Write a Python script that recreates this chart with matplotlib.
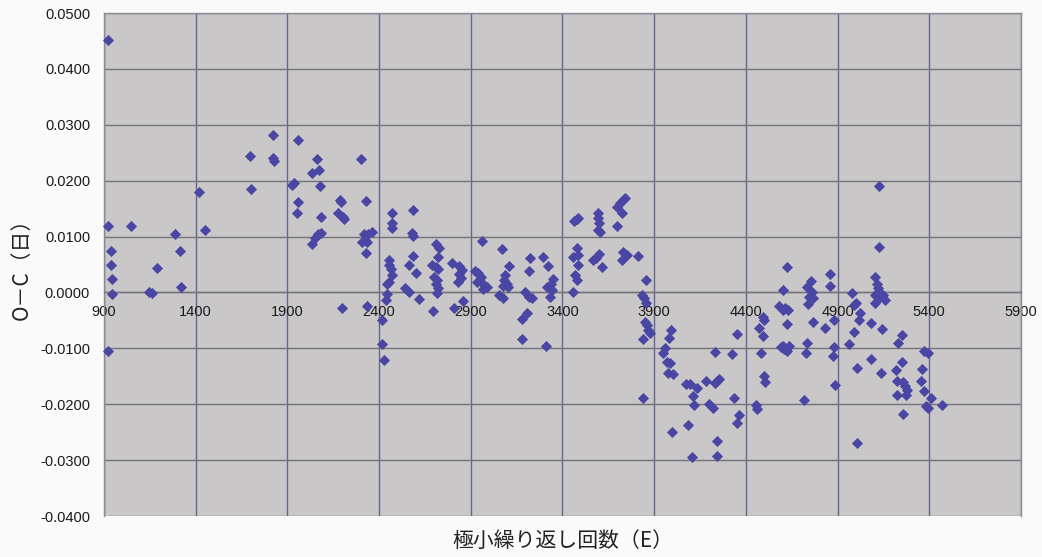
import matplotlib
matplotlib.use("Agg")
import matplotlib.pyplot as plt
import numpy as np

plt.rcParams['font.family'] = ['Liberation Sans', 'DejaVu Sans']
plt.rcParams['axes.unicode_minus'] = False

# Cycle count E and O-C residual (days), grouped by epoch range
epoch_early = [
    923, 923, 1046, 938, 938, 945, 946, 923, 1145, 1162, 1187, 1287, 1314, 1318, 1420, 1452,
    1694, 1700, 1820, 1819, 1827, 1956, 1923, 1936, 1956, 1951, 2061, 2036, 2072, 2076, 2083, 2036, 2050, 2068, 2082,
    2187, 2191, 2174, 2202, 2210, 2199, 2303, 2327, 2319, 2341, 2360, 2307, 2332, 2327, 2332,
    2469, 2469, 2472, 2454, 2456, 2463, 2472, 2456, 2445, 2445, 2438, 2418, 2418, 2427,
]
oc_early = [
    0.0452, 0.0119, 0.0119, 0.0074, 0.0050, 0.0024, -0.0002, -0.0105, 0.0001, -0.0001, 0.0044, 0.0105, 0.0074, 0.0010, 0.0180, 0.0112,
    0.0245, 0.0186, 0.0282, 0.0240, 0.0235, 0.0273, 0.0192, 0.0195, 0.0161, 0.0143, 0.0238, 0.0213, 0.0219, 0.0191, 0.0135, 0.0086, 0.0098, 0.0104, 0.0107,
    0.0165, 0.0162, 0.0143, 0.0135, 0.0131, -0.0027, 0.0238, 0.0164, 0.0104, 0.0104, 0.0109, 0.0090, 0.0091, 0.0071, -0.0025,
    0.0143, 0.0125, 0.0116, 0.0058, 0.0049, 0.0042, 0.0031, 0.0019, 0.0015, -0.0003, -0.0013, -0.0049, -0.0092, -0.0120,
]

epoch_mid = [
    2583, 2579, 2583, 2586, 2565, 2601, 2541, 2565, 2615, 2693, 2710, 2728, 2720, 2687, 2710, 2723, 2699, 2714, 2710, 2720, 2714,
    2796, 2837, 2850, 2837, 2845, 2832, 2856, 2811,
    2961, 2941, 2954, 2932, 2968, 2987, 2923, 2967,
    3068, 3110, 3087, 3083, 3096, 3074, 3105, 3055, 3077,
    3223, 3219, 3196, 3219, 3232, 3208, 3177, 3177,
    3292, 3323, 3350, 3336, 3314, 3341, 3332, 3312,
    3463, 3477, 3486, 3477, 3459, 3486, 3486, 3468, 3477, 3459,
    3592, 3595, 3601, 3592, 3604, 3601, 3583, 3568, 3614,
    3695, 3713, 3732, 3741, 3723, 3695, 3732, 3750, 3723, 3813,
    3855, 3832, 3844, 3858, 3850, 3859, 3868, 3880, 3837, 3837,
]
oc_mid = [
    0.0148, 0.0106, 0.0101, 0.0065, 0.0049, 0.0035, 0.0008, 0.0000, -0.0012, -0.0034, 0.0086, 0.0080, 0.0063, 0.0049, 0.0045, 0.0042, 0.0028, 0.0022, 0.0015, 0.0008, -0.0001,
    0.0053, 0.0047, 0.0040, 0.0033, 0.0025, 0.0019, -0.0015, -0.0028,
    0.0092, 0.0034, 0.0028, 0.0019, 0.0016, 0.0009, 0.0038, 0.0006,
    0.0078, 0.0047, 0.0031, 0.0022, 0.0015, 0.0012, 0.0010, -0.0004, -0.0010,
    0.0061, 0.0039, 0.0001, -0.0008, -0.0010, -0.0037, -0.0048, -0.0084,
    0.0064, 0.0047, 0.0024, 0.0016, 0.0009, 0.0004, -0.0008, -0.0096,
    0.0127, 0.0131, 0.0134, 0.0079, 0.0064, 0.0067, 0.0049, 0.0031, 0.0022, 0.0000,
    0.0142, 0.0133, 0.0124, 0.0112, 0.0109, 0.0069, 0.0061, 0.0058, 0.0046,
    0.0153, 0.0160, 0.0165, 0.0169, 0.0142, 0.0119, 0.0073, 0.0067, 0.0058, 0.0066,
    0.0022, -0.0004, -0.0010, -0.0018, -0.0052, -0.0058, -0.0067, -0.0072, -0.0084, -0.0188,
]

epoch_late = [
    3990, 3982, 3959, 3946, 3968, 3986, 3977, 4004, 3995,
    4072, 4095, 4135, 4110, 4117, 4086, 4104,
    4182, 4231, 4231, 4244, 4255, 4200, 4222, 4241, 4241,
    4323, 4352, 4335, 4365, 4350,
    4473, 4495, 4481, 4495, 4500, 4499, 4504, 4455, 4459,
    4627, 4601, 4580, 4613, 4628, 4604, 4622, 4590, 4608, 4637, 4622, 4602,
    4753, 4731, 4758, 4746, 4768, 4740, 4768, 4735, 4729, 4719,
    4858, 4858, 4831, 4880, 4880, 4877, 4886,
    4977, 5000, 4989, 5022, 5017, 4991, 4962, 5004, 5007,
    5080, 5080, 5127, 5126, 5106, 5113, 5122, 5104, 5131, 5149, 5158, 5104, 5131, 5144, 5137,
    5250, 5231, 5250, 5218, 5222, 5258, 5268, 5277, 5222, 5273, 5255,
    5373, 5395, 5362, 5355, 5373, 5409, 5382, 5395, 5468,
]
oc_late = [
    -0.0068, -0.0082, -0.0100, -0.0108, -0.0124, -0.0126, -0.0145, -0.0146, -0.0250,
    -0.0164, -0.0164, -0.0171, -0.0185, -0.0201, -0.0238, -0.0294,
    -0.0158, -0.0106, -0.0162, -0.0158, -0.0154, -0.0199, -0.0207, -0.0266, -0.0293,
    -0.0110, -0.0074, -0.0188, -0.0219, -0.0233,
    -0.0064, -0.0078, -0.0109, -0.0044, -0.0049, -0.0149, -0.0161, -0.0201, -0.0209,
    0.0046, 0.0004, -0.0024, -0.0028, -0.0031, -0.0032, -0.0056, -0.0098, -0.0102, -0.0095, -0.0105, -0.0096,
    0.0020, 0.0009, 0.0001, -0.0008, -0.0010, -0.0021, -0.0052, -0.0090, -0.0109, -0.0192,
    0.0033, 0.0011, -0.0064, -0.0049, -0.0098, -0.0114, -0.0165,
    -0.0001, -0.0019, -0.0022, -0.0036, -0.0050, -0.0071, -0.0093, -0.0136, -0.0270,
    -0.0055, -0.0119, 0.0191, 0.0081, 0.0027, 0.0016, 0.0008, -0.0004, -0.0008, -0.0004, -0.0013, -0.0019, -0.0001, -0.0066, -0.0145,
    -0.0077, -0.0090, -0.0124, -0.0139, -0.0158, -0.0160, -0.0168, -0.0174, -0.0183, -0.0183, -0.0218,
    -0.0105, -0.0109, -0.0137, -0.0158, -0.0176, -0.0189, -0.0203, -0.0206, -0.0201,
]

x_ticks = [900, 1400, 1900, 2400, 2900, 3400, 3900, 4400, 4900, 5400, 5900]
y_ticks = [-0.04, -0.03, -0.02, -0.01, 0.0, 0.01, 0.02, 0.03, 0.04, 0.05]
x_label = "極小繰り返し回数（E）"
y_label = "O－C（日）"

epoch = np.array(epoch_early + epoch_mid + epoch_late)
o_c = np.array(oc_early + oc_mid + oc_late)

fig = plt.figure(figsize=(10.42, 5.57), dpi=100, facecolor="#fbfafa")
ax = fig.add_axes([0.0998, 0.0736, 0.88, 0.903])
ax.set_facecolor("#cac7c9")

ax.set_xlim(x_ticks[0], x_ticks[-1])
ax.set_ylim(y_ticks[0], y_ticks[-1])
ax.set_xticks(x_ticks)
ax.set_yticks(y_ticks)
ax.set_yticklabels([f"{v:.4f}" for v in y_ticks])
ax.set_xticklabels([str(v) for v in x_ticks])

ax.grid(True, axis="y", color="#74727a", linewidth=1.0)
ax.grid(True, axis="x", color="#66668a", linewidth=1.0)
ax.set_axisbelow(True)

for side in ("top", "right", "left"):
    ax.spines[side].set_color("#8c8a94")
    ax.spines[side].set_linewidth(1.0)
ax.spines["bottom"].set_position(("data", 0))
ax.spines["bottom"].set_color("#74727a")
ax.spines["bottom"].set_linewidth(1.0)

ax.tick_params(axis="x", length=0, pad=9, labelsize=10.5, colors="#1a1a1a")
ax.tick_params(axis="y", length=0, pad=10, labelsize=10.5, colors="#1a1a1a")

ax.plot(epoch, o_c, linestyle="none", marker="D", markersize=4.6,
        color="#4a46a4", markeredgecolor="#4a46a4", markeredgewidth=0.6,
        zorder=3, clip_on=False)

cjk = ["Noto Sans CJK JP", "DejaVu Sans"]
fig.text(0.5405, 0.028, x_label, ha="center", va="center",
         fontsize=15, family=cjk, color="#222222")
fig.text(0.021, 0.527, y_label, ha="center", va="center", rotation=90,
         fontsize=15, family=cjk, color="#222222")

fig.savefig("out.png", dpi=100, facecolor=fig.get_facecolor())
